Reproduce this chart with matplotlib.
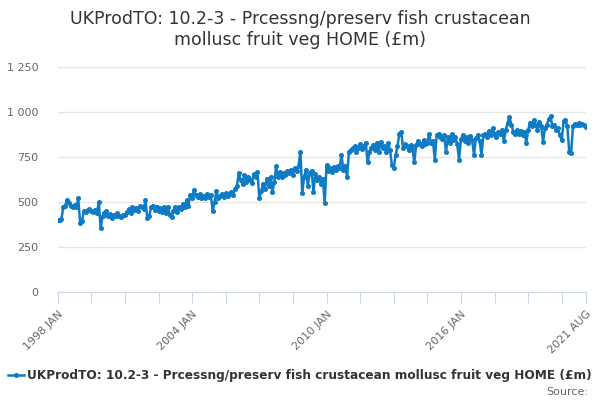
#!/usr/bin/env python3
import matplotlib
matplotlib.use('Agg')
import matplotlib.pyplot as plt
from matplotlib.ticker import FuncFormatter

# monthly values, 1998 JAN .. 2021 AUG (£m)
v1998 = [400, 400, 405, 475, 480, 510, 495, 480, 470, 485, 475, 520]
v1999 = [385, 395, 450, 445, 455, 460, 448, 445, 458, 440, 500, 355]
v2000 = [420, 440, 450, 420, 435, 410, 430, 420, 440, 425, 415, 430]
v2001 = [430, 445, 460, 440, 470, 455, 465, 450, 480, 470, 460, 510]
v2002 = [410, 420, 470, 480, 455, 475, 450, 465, 445, 470, 440, 475]
v2003 = [430, 415, 450, 470, 445, 475, 460, 490, 470, 510, 480, 540]
v2004 = [525, 565, 540, 530, 545, 520, 535, 525, 545, 530, 540, 450]
v2005 = [500, 560, 520, 535, 545, 530, 550, 535, 545, 555, 540, 570]
v2006 = [590, 660, 620, 600, 650, 610, 640, 625, 605, 655, 640, 665]
v2007 = [520, 560, 600, 575, 630, 590, 640, 555, 610, 700, 640, 665]
v2008 = [640, 660, 650, 675, 660, 680, 650, 690, 670, 700, 780, 550]
v2009 = [640, 680, 590, 660, 675, 555, 655, 620, 640, 600, 630, 495]
v2010 = [705, 670, 690, 665, 695, 680, 700, 690, 760, 680, 700, 640]
v2011 = [780, 790, 800, 810, 780, 800, 820, 795, 810, 830, 720, 780]
v2012 = [800, 815, 790, 830, 780, 835, 800, 810, 780, 825, 790, 705]
v2013 = [690, 760, 810, 880, 890, 800, 820, 810, 790, 815, 800, 720]
v2014 = [815, 840, 820, 810, 845, 820, 830, 880, 825, 840, 735, 870]
v2015 = [880, 860, 850, 870, 780, 860, 830, 875, 845, 860, 820, 735]
v2016 = [850, 870, 840, 860, 830, 865, 845, 760, 855, 870, 840, 760]
v2017 = [870, 880, 860, 895, 870, 910, 880, 860, 890, 875, 900, 840]
v2018 = [900, 940, 970, 930, 890, 880, 900, 875, 895, 870, 890, 830]
v2019 = [900, 940, 920, 955, 930, 900, 945, 920, 835, 910, 930, 960]
v2020 = [975, 920, 930, 900, 910, 870, 845, 950, 955, 920, 780, 770]
v2021 = [920, 935, 930, 940, 925, 935, 930, 915]

values = (v1998 + v1999 + v2000 + v2001 + v2002 + v2003 + v2004 + v2005
          + v2006 + v2007 + v2008 + v2009 + v2010 + v2011 + v2012 + v2013
          + v2014 + v2015 + v2016 + v2017 + v2018 + v2019 + v2020 + v2021)
months = list(range(len(values)))

tick_pos = list(range(0, 271, 18)) + [283]
label_pos = {0: '1998 JAN', 72: '2004 JAN', 144: '2010 JAN', 216: '2016 JAN', 283: '2021 AUG'}
series_name = 'UKProdTO: 10.2-3 - Prcessng/preserv fish crustacean mollusc fruit veg HOME (£m)'
title = 'UKProdTO: 10.2-3 - Prcessng/preserv fish crustacean\nmollusc fruit veg HOME (£m)'

plt.rcParams['font.family'] = ['DejaVu Sans']
blue = '#0f7bc4'

fig = plt.figure(figsize=(6, 4), dpi=100)
ax = fig.add_axes([0.0962, 0.27, 0.8805, 0.5625])
ax.plot(months, values, color=blue, lw=1.8, marker='o', ms=2.6, label=series_name)

ax.set_xlim(0, 283)
ax.set_ylim(0, 1250)
ax.set_yticks([0, 250, 500, 750, 1000, 1250])
ax.yaxis.set_major_formatter(FuncFormatter(lambda x, p: format(int(x), ',').replace(',', ' ')))
ax.grid(axis='y', color='#e6e6e6', lw=1)
ax.set_axisbelow(True)
for s in ['top', 'right', 'left']:
    ax.spines[s].set_visible(False)
ax.spines['bottom'].set_color('#ccd6eb')
ax.tick_params(axis='y', length=0, labelsize=8, labelcolor='#666666', pad=14)

ax.set_xticks(tick_pos)
ax.set_xticklabels([label_pos.get(t, '') for t in tick_pos], rotation=45, ha='right',
                   rotation_mode='anchor', fontsize=8, color='#666666')
ax.tick_params(axis='x', length=8, color='#ccd6eb', pad=4)

fig.text(0.5, 0.927, title, ha='center', va='center', fontsize=12.5, color='#333333',
         linespacing=1.2)

leg = ax.legend(loc='center left', bbox_to_anchor=(-0.094, -0.37), frameon=False,
                prop={'weight': 'bold', 'size': 8.7}, handlelength=1.3, handletextpad=0.25,
                labelcolor='#333333', borderaxespad=0, borderpad=0)
fig.text(0.98, 0.02, 'Source:', ha='right', va='center', fontsize=8, color='#666666')

plt.savefig('out.png', dpi=100)
plt.close()
